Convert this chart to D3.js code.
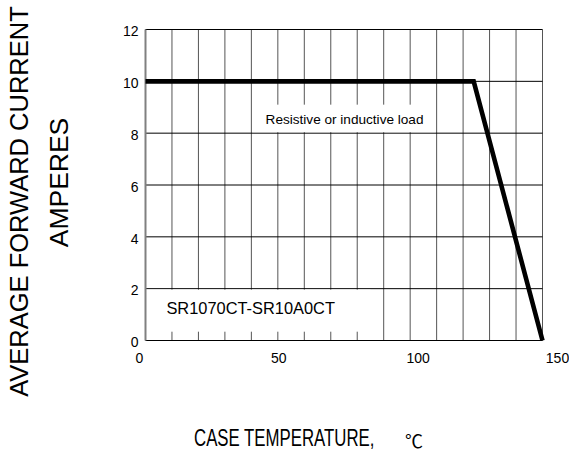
<!DOCTYPE html>
<html>
<head>
<meta charset="utf-8">
<script src="https://cdn.jsdelivr.net/npm/d3@7"></script>
<style>
    body { margin: 0; background: #fff; }
    text { font-family: "Liberation Sans", Arial, sans-serif; fill: #000; }
</style>
</head>
<body>
<div id="chart"></div>
<script>

// Derating curve (case temperature -> average forward current)
var temps = [0, 124, 150];
var currents = [10, 10, 0];

// Axis ticks and grid
var xTicks = [0, 50, 100, 150];
var yTicks = [0, 2, 4, 6, 8, 10, 12];
var xGrid = [0, 10, 20, 30, 40, 50, 60, 70, 80, 90, 100, 110, 120, 130, 140, 150];

// Texts
var yTitle = "AVERAGE FORWARD CURRENT";
var yUnit = "AMPERES";
var xTitle = "CASE TEMPERATURE,";
var xUnit = "\u2103";
var loadNote = "Resistive or inductive load";
var partNote = "SR1070CT-SR10A0CT";


var width = 569, height = 454;

var svg = d3.select("#chart").append("svg")
    .attr("width", width)
    .attr("height", height);

// Scales
var x = d3.scaleLinear().domain([0, 150]).range([145.5, 542.5]);
var y = d3.scaleLinear().domain([0, 12]).range([340.5, 29.5]);
// tick labels in the original sit a bit wider than the grid
var xLab = d3.scaleLinear().domain([0, 150]).range([139, 557]);


// Grid
svg.append("g").selectAll("line")
    .data(xGrid)
    .enter().append("line")
    .attr("x1", function(d) { return x(d); })
    .attr("x2", function(d) { return x(d); })
    .attr("y1", y(0))
    .attr("y2", y(12))
    .attr("stroke", "#555")
    .attr("stroke-width", 1);

svg.append("g").selectAll("line")
    .data(yTicks)
    .enter().append("line")
    .attr("x1", x(0))
    .attr("x2", x(150))
    .attr("y1", function(d) { return y(d); })
    .attr("y2", function(d) { return y(d); })
    .attr("stroke", "#000")
    .attr("stroke-width", 1);


// White label boxes covering the grid
svg.append("rect")
    .attr("x", x(40) + 1)
    .attr("y", y(9.1))
    .attr("width", x(110) - x(40) - 2)
    .attr("height", y(8) - y(9.1) - 1)
    .attr("fill", "#fff");

svg.append("rect")
    .attr("x", x(0))
    .attr("y", y(2) + 1)
    .attr("width", x(85) - x(0))
    .attr("height", y(0.34) - y(2) - 1)
    .attr("fill", "#fff");

svg.append("text")
    .attr("x", x(75.2))
    .attr("y", y(8.35))
    .attr("text-anchor", "middle")
    .style("font-size", "13.6px")
    .text(loadNote);

svg.append("text")
    .attr("x", x(7.9))
    .attr("y", y(1.02))
    .style("font-size", "16.4px")
    .text(partNote);


// Left axis line (grey)
svg.append("line")
    .attr("x1", x(0)).attr("x2", x(0))
    .attr("y1", y(0)).attr("y2", y(12))
    .attr("stroke", "#808080")
    .attr("stroke-width", 2);


// Y tick labels
var yAxis = d3.axisLeft(y)
    .tickValues(yTicks)
    .tickSize(0)
    .tickPadding(7);

svg.append("g")
    .attr("class", "y-axis axis")
    .attr("transform", "translate(" + x(0) + ",0)")
    .call(yAxis)
    .call(function(g) { g.select(".domain").remove(); })
    .selectAll("text")
    .attr("dy", "0.45em")
    .style("font-size", "14px")
    .style("font-family", "'Liberation Sans', Arial, sans-serif");

// X tick labels
var xAxis = d3.axisBottom(xLab)
    .tickValues(xTicks)
    .tickSize(0)
    .tickPadding(12.6);

svg.append("g")
    .attr("class", "x-axis axis")
    .attr("transform", "translate(0," + y(0) + ")")
    .call(xAxis)
    .call(function(g) { g.select(".domain").remove(); })
    .selectAll("text")
    .style("font-size", "14px")
    .style("font-family", "'Liberation Sans', Arial, sans-serif");


// Derating line
var line = d3.line()
    .x(function(d, i) { return x(temps[i]); })
    .y(function(d) { return y(d); });

svg.append("path")
    .datum(currents)
    .attr("d", line)
    .attr("fill", "none")
    .attr("stroke", "#000")
    .attr("stroke-width", 4.6)
    .attr("stroke-linejoin", "miter");


// Axis titles
svg.append("text")
    .attr("transform", "translate(28,201.5) rotate(-90)")
    .attr("text-anchor", "middle")
    .style("font-size", "25.5px")
    .text(yTitle);

svg.append("text")
    .attr("transform", "translate(68,182.5) rotate(-90)")
    .attr("text-anchor", "middle")
    .style("font-size", "26.5px")
    .text(yUnit);

svg.append("text")
    .attr("transform", "translate(194,446) scale(0.7,1)")
    .style("font-size", "24px")
    .text(xTitle);

svg.append("text")
    .attr("x", 405)
    .attr("y", 448)
    .style("font-size", "18px")
    .style("font-family", "'Noto Sans CJK SC', sans-serif")
    .text(xUnit);

</script>
</body>
</html>
